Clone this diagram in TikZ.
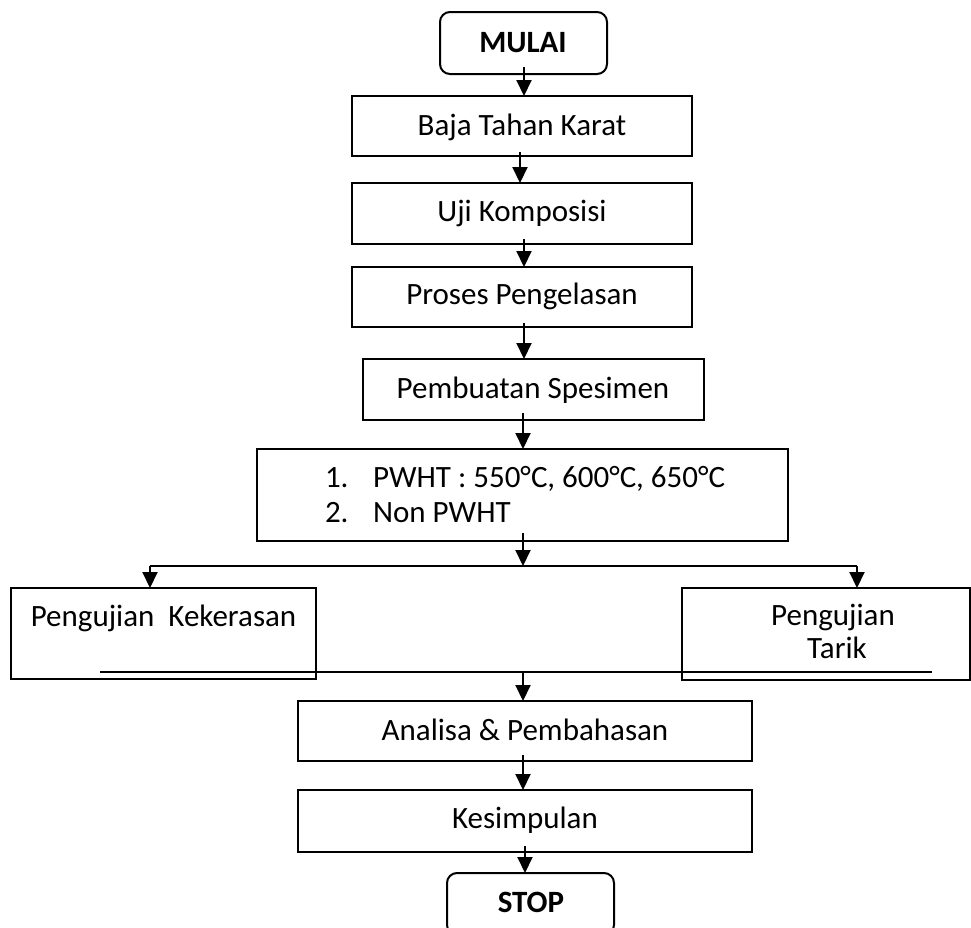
\documentclass[tikz,border=0pt]{standalone}
\usepackage{fontspec}
\setmainfont{Carlito}
\usetikzlibrary{arrows.meta,calc}
\begin{document}
\begin{tikzpicture}[x=0.5pt,y=-0.5pt,
  box/.style={draw,line width=1pt,inner sep=0pt,outer sep=0pt},
  rbox/.style={box,rounded corners=5pt},
  txt/.style={anchor=base,inner sep=0pt,outer sep=0pt,font=\fontsize{15.5}{18}\selectfont},
  txtw/.style={txt,anchor=base west},
  arr/.style={line width=1pt,-{Triangle[width=7.5pt,length=8pt]}},
  ln/.style={line width=1pt}]
\useasboundingbox (0,0) rectangle (971,928);
\clip (0,0) rectangle (971,928);
% boxes
\node[rbox,minimum width=83.5pt,minimum height=31pt] (mulai) at (523.5,43) {};
\node[box,minimum width=170pt,minimum height=30pt] (baja) at (522,126) {};
\node[box,minimum width=170pt,minimum height=30.5pt] (uji) at (522,213.5) {};
\node[box,minimum width=170pt,minimum height=30pt] (proses) at (522,297) {};
\node[box,minimum width=170.5pt,minimum height=30.5pt] (pemb) at (533.5,389.5) {};
\node[box,minimum width=265.5pt,minimum height=46pt] (pwht) at (522.5,495) {};
\node[box,minimum width=152.5pt,minimum height=45.5pt] (keker) at (163.5,633.5) {};
\node[box,minimum width=144pt,minimum height=46pt] (tarik) at (826,634) {};
\node[box,minimum width=227pt,minimum height=30pt] (analisa) at (525,731) {};
\node[box,minimum width=227pt,minimum height=31pt] (kesimp) at (525,821) {};
\node[rbox,minimum width=83.5pt,minimum height=31pt] (stop) at (530.5,904) {};
% texts
\node[txt] (tmulai) at (523,52) {\bfseries MULAI};
\node[txt] (tbaja) at (522,135) {Baja Tahan Karat};
\node[txt] (tuji) at (522,221) {Uji Komposisi};
\node[txt] (tproses) at (522,304) {Proses Pengelasan};
\node[txt] (tpemb) at (533,398) {Pembuatan Spesimen};
\node[txtw] (n1) at (325,487) {1.};
\node[txtw] (l1) at (373,487) {PWHT : 550°C, 600°C, 650°C};
\node[txtw] (n2) at (325,522) {2.};
\node[txtw] (l2) at (373,522) {Non PWHT};
\node[txt] (tkeker) at (163.5,626) {Pengujian\ \ Kekerasan};
\node[txt] (ttarik1) at (833,625) {Pengujian};
\node[txt] (ttarik2) at (837,658) {Tarik};
\node[txt] (tanalisa) at (525,740) {Analisa \& Pembahasan};
\node[txt] (tkesimp) at (525,828) {Kesimpulan};
\node[txt] (tstop) at (531,912) {\bfseries STOP};
% coordinates
\coordinate (br) at (523,566);
\coordinate (brl) at (150,566);
\coordinate (brr) at (857,566);
\coordinate (mgl) at (100,672);
\coordinate (mgr) at (932,672);
\coordinate (mg) at (523,672);
% connectors
\draw[arr] (mulai.south -| 524,0) ++(0,-7) -- (baja.north -| 524,0);
\draw[arr] (baja.south -| 520,0) ++(0,-4) -- (uji.north -| 520,0);
\draw[arr] (uji.south -| 524,0) ++(0,-5) -- (proses.north -| 524,0);
\draw[arr] (proses.south -| 524,0) ++(0,-4) -- (pemb.north -| 524,0);
\draw[arr] (pemb.south -| 523,0) ++(0,-7) -- (pwht.north -| 523,0);
\draw[arr] (pwht.south -| 523,0) ++(0,-8) -- (br);
\draw[ln] (brl) -- (brr);
\draw[arr] (brl) -- (keker.north -| brl);
\draw[arr] (brr) -- (tarik.north -| brr);
\draw[ln] (mgl) -- (mgr);
\draw[arr] (mg) -- (analisa.north -| mg);
\draw[arr] (analisa.south -| 523,0) ++(0,-6) -- (kesimp.north -| 523,0);
\draw[arr] (kesimp.south -| 525,0) ++(0,-6) -- (stop.north -| 525,0);
\end{tikzpicture}
\end{document}
